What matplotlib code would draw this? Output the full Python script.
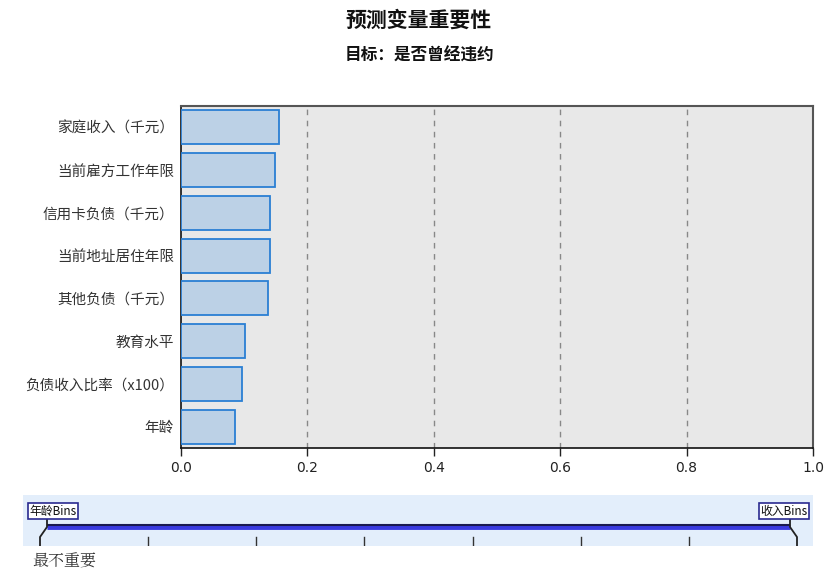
import matplotlib
import matplotlib.pyplot as plt

matplotlib.use('Agg')
plt.rcParams['font.family'] = ['Noto Sans CJK SC', 'DejaVu Sans']

TITLE = "预测变量重要性"
SUBTITLE = "目标：是否曾经违约"

predictors = ["家庭收入（千元）", "当前雇方工作年限", "信用卡负债（千元）", "当前地址居住年限",
              "其他负债（千元）", "教育水平", "负债收入比率（x100）", "年龄"]
importance = [0.155, 0.149, 0.141, 0.141, 0.137, 0.102, 0.097, 0.086]

x_ticks = [0.0, 0.2, 0.4, 0.6, 0.8, 1.0]
slider_ticks = list(range(8))
slider_left = "年龄Bins"
slider_right = "收入Bins"
least_label = "最不重要"

W, H = 838, 578
fig = plt.figure(figsize=(W / 100, H / 100), dpi=100)

# main bar chart
ax = fig.add_axes([181 / W, 1 - 448 / H, 632 / W, 342 / H])
ax.set_facecolor('#e8e8e8')
pos = list(range(len(predictors)))
ax.barh(pos, importance, height=0.8, color='#bcd1e6', edgecolor='#2a7fd4', linewidth=1.3, zorder=3)
ax.set_ylim(len(predictors) - 0.5, -0.5)
ax.set_xlim(0, 1.0)
ax.set_xticks(x_ticks)
ax.set_xticklabels(["%.1f" % t for t in x_ticks], fontsize=10, color='#222222', family=['DejaVu Sans'])
ax.set_yticks(pos)
ax.set_yticklabels(predictors, fontsize=10.5, color='#333333')
for t in x_ticks[1:-1]:
    ax.axvline(t, color='#888888', linestyle=(0, (4, 4)), linewidth=1, zorder=1)
ax.tick_params(axis='y', length=0, pad=5)
ax.tick_params(axis='x', length=6, width=1, color='#222222', pad=3)
for s in ['left', 'bottom']:
    ax.spines[s].set_color('#111111')
    ax.spines[s].set_linewidth(1.2)
for s in ['top', 'right']:
    ax.spines[s].set_color('#555555')
    ax.spines[s].set_linewidth(1.5)

fig.text(0.5, 1 - 20 / H, TITLE, ha='center', va='center', fontsize=15, fontweight='bold', color='#111111')
fig.text(0.5, 1 - 56 / H, SUBTITLE, ha='center', va='center', fontsize=12, fontweight='bold', color='#111111')

# importance slider
sx = fig.add_axes([23 / W, 1 - 546 / H, 790 / W, 51 / H])
sx.set_facecolor('#e3eefb')
for s in sx.spines.values():
    s.set_visible(False)
sx.set_xticks([])
sx.set_yticks([])
sx.set_xlim(-17 / 108.14, 7 + 16 / 108.14)
sx.set_ylim(51, 0)
for t in slider_ticks[1:-1]:
    sx.plot([t, t], [42, 51], color='#333333', lw=1)
lo, hi = slider_ticks[0], slider_ticks[-1]
off = 7 / 108.14
sx.plot([lo + off, hi - off], [31.5, 31.5], color='#3a3ae0', lw=3.5, solid_capstyle='butt')
sx.plot([lo + off, hi - off], [30.3, 30.3], color='#1a1a50', lw=1.5, solid_capstyle='butt')
for x0, d in [(lo, off), (hi, -off)]:
    sx.plot([x0, x0, x0 + d, x0 + d], [51, 42, 32, 24], color='#222222', lw=1.3)
sx.text(lo - 11 / 108.14, 16, slider_left, ha='left', va='center', fontsize=8.5, color='#111111',
        bbox=dict(boxstyle='square,pad=0.12', facecolor='white', edgecolor='#2a2a90', lw=1.2))
sx.text(hi + 11 / 108.14, 16, slider_right, ha='right', va='center', fontsize=8.5, color='#111111',
        bbox=dict(boxstyle='square,pad=0.12', facecolor='white', edgecolor='#2a2a90', lw=1.2))

fig.text(32 / W, 1 - 562 / H, least_label, ha='left', va='center', fontsize=11.5, color='#333333',
         family=['Noto Serif CJK SC', 'Noto Sans CJK SC'])

fig.savefig('out.png', dpi=100)
